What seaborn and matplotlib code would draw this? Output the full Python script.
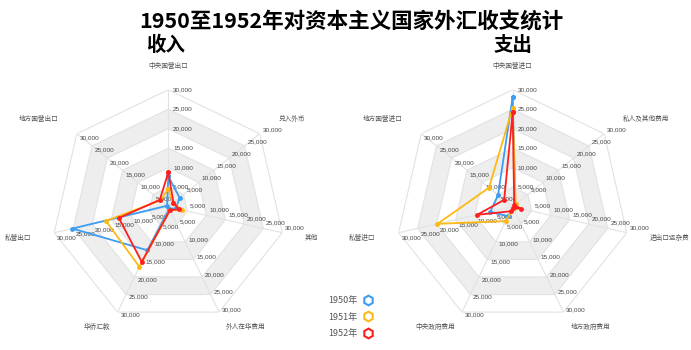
import numpy as np
import pandas as pd
import matplotlib
matplotlib.use('Agg')
import matplotlib.pyplot as plt
import seaborn as sns
from matplotlib.lines import Line2D

sns.set_theme(style='white')
plt.rcParams['font.family'] = ['Noto Sans CJK SC', 'DejaVu Sans']

# 年份与颜色
years = ['1950年', '1951年', '1952年']
colors = ['#3d9df2', '#fdb913', '#ff1f1f']

# 收入
income_axes = ['中央国营出口', '兑入外币', '其他', '外人在华费用', '华侨汇款', '私营出口', '地方国营出口']
income_1950 = [7800, 3700, 2000, 600, 12400, 25200, 400]
income_1951 = [4500, 1500, 3500, 1000, 17100, 16400, 2600]
income_1952 = [8800, 1700, 2800, 1000, 15700, 13000, 2800]

# 支出
expense_axes = ['中央国营进口', '私人及其他费用', '进出口运杂费', '地方政府费用', '中央政府费用', '私营进口', '地方国营进口']
expense_1950 = [28200, 800, 800, 500, 2700, 5900, 4800]
expense_1951 = [25400, 1000, 800, 500, 4100, 19800, 7800]
expense_1952 = [24200, 500, 2300, 400, 1300, 9400, 2800]

ticks = [5000, 10000, 15000, 20000, 25000, 30000]
rmax = 30000


def radar(ax, names, series):
    n = len(names)
    theta = np.linspace(0, 2 * np.pi, n, endpoint=False)
    tc = np.append(theta, theta[0])
    ax.set_theta_zero_location('N')
    ax.set_theta_direction(-1)
    ax.axis('off')

    # 分隔区域
    for r in reversed(ticks):
        c = '#eeeeee' if (r // 5000) % 2 == 1 else 'white'
        ax.fill(tc, [r] * (n + 1), color=c, lw=0, zorder=0)
    for r in ticks:
        ax.plot(tc, [r] * (n + 1), color='#e2e2e2', lw=0.8, zorder=1)
    for t in theta:
        ax.plot([t, t], [0, rmax], color='#e2e2e2', lw=0.8, zorder=1)

    # 轴标签
    for i, t in enumerate(theta):
        sx = np.sin(t)
        for r in ticks:
            ax.annotate(f'{r:,}', xy=(t, r), xytext=(3.5 if i == 0 else 2, 4 * sx),
                        textcoords='offset points', ha='left', va='center',
                        fontsize=4.6, color='#444', zorder=2, family='Liberation Sans')
        if abs(sx) < 0.01:
            ha = 'center'
        elif sx > 0:
            ha = 'left'
        else:
            ha = 'right'
        rf = 1.14 if np.cos(t) < -0.5 else 1.2
        ax.text(t, rmax * rf, names[i], ha=ha, va='center', fontsize=4.8, color='#555')

    # 数据
    rows = []
    for y, vals in zip(years, series):
        for j in range(n + 1):
            rows.append({'theta': theta[j % n] + (2 * np.pi if j == n else 0),
                         'value': vals[j % n], 'year': y})
    df = pd.DataFrame(rows)
    sns.lineplot(data=df, x='theta', y='value', hue='year', palette=dict(zip(years, colors)),
                 sort=False, estimator=None, errorbar=None, marker='o', markersize=3.5,
                 markeredgewidth=0, linewidth=1.3, legend=False, ax=ax, zorder=4)
    ax.set_ylim(0, rmax)


fig = plt.figure(figsize=(6.91, 3.5), dpi=100)
W, H = 691, 350
R = 117
cy = 1 - 206.7 / H
for cx_px, names, series in [(168.3, income_axes, [income_1950, income_1951, income_1952]),
                             (512.7, expense_axes, [expense_1950, expense_1951, expense_1952])]:
    cx = cx_px / W
    ax = fig.add_axes([cx - R / W, cy - R / H, 2 * R / W, 2 * R / H], projection='polar')
    radar(ax, names, series)

fig.text(0.508, 0.94, '1950至1952年对资本主义国家外汇收支统计', ha='center', va='center',
         fontsize=15.5, fontweight='bold', color='black')
fig.text(0.239, 0.871, '收入', ha='center', va='center', fontsize=14, fontweight='bold', color='black')
fig.text(0.742, 0.871, '支出', ha='center', va='center', fontsize=14, fontweight='bold', color='black')

handles = [Line2D([], [], ls='none', marker='h', ms=7, mfc='white', mec=c, mew=1.5) for c in colors]
fig.legend(handles, years, loc='center', bbox_to_anchor=(0.507, 0.094), frameon=False,
           markerfirst=False, fontsize=6.5, labelcolor='#555', handletextpad=0.6,
           labelspacing=0.85, handlelength=1.0)

fig.savefig('out.png', dpi=100)
